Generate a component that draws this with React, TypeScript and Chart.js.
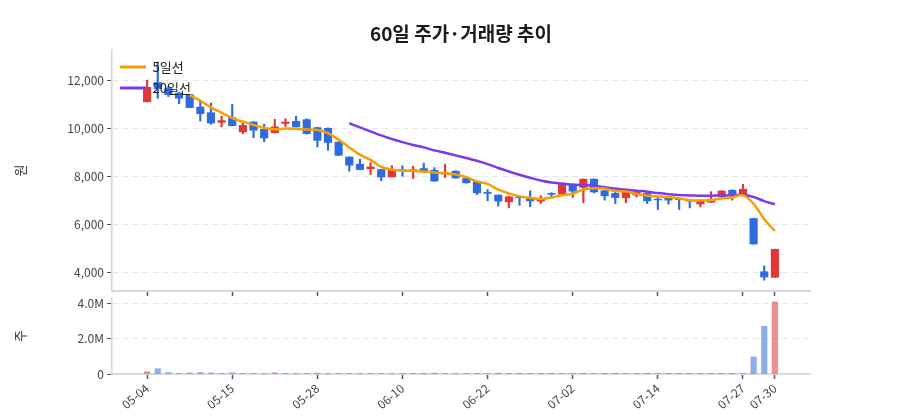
import React, { useEffect, useRef } from "react";
import { Chart, registerables } from "chart.js";

Chart.register(...registerables);

const dates = [
  "05-04", "05-06", "05-07", "05-08", "05-11", "05-12", "05-13", "05-14", "05-15", "05-18",
  "05-19", "05-20", "05-21", "05-22", "05-26", "05-27", "05-28", "05-29", "06-01", "06-02",
  "06-04", "06-05", "06-08", "06-09", "06-10", "06-11", "06-12", "06-15", "06-16", "06-17",
  "06-18", "06-19", "06-22", "06-23", "06-24", "06-25", "06-26", "06-29", "06-30", "07-01",
  "07-02", "07-03", "07-06", "07-07", "07-08", "07-09", "07-10", "07-13", "07-14", "07-15",
  "07-16", "07-20", "07-21", "07-22", "07-23", "07-24", "07-27", "07-28", "07-29", "07-30",
];

const opens = [
  11100, 11900, 11650, 11460, 11400, 10880, 10650, 10250, 10440, 9850,
  10260, 9960, 9820, 10200, 10290, 10360, 10030, 10000, 9430, 8810,
  8510, 8320, 8290, 7980, 8280, 8240, 8330, 8260, 8100, 8220,
  7920, 7780, 7340, 7230, 6950, 7140, 7130, 6980, 7300, 7270,
  7640, 7550, 7890, 7410, 7300, 7120, 7230, 7300, 7060, 7130,
  7060, 7000, 6860, 6930, 7160, 7430, 7270, 6260, 4050, 3820,
];
const highs = [
  12000, 12750, 11750, 11500, 11420, 11120, 11050, 10500, 10990, 10220,
  10280, 10170, 10370, 10400, 10500, 10400, 10050, 10020, 9440, 8820,
  8720, 8580, 8300, 8450, 8450, 8430, 8560, 8370, 8510, 8240,
  7960, 7790, 7460, 7240, 7170, 7150, 7410, 7200, 7330, 7680,
  7660, 7900, 7900, 7420, 7360, 7350, 7380, 7310, 7160, 7140,
  7090, 7050, 7000, 7370, 7410, 7450, 7680, 6270, 4290, 4990,
];
const lows = [
  11100, 11250, 11320, 11020, 10850, 10300, 10170, 10060, 10100, 9780,
  9610, 9440, 9810, 10080, 10050, 9760, 9230, 9090, 8870, 8220,
  8280, 8080, 7820, 7980, 8010, 7920, 8210, 7800, 7960, 7930,
  7720, 7250, 6990, 6770, 6700, 6810, 6750, 6880, 7130, 7260,
  7130, 6910, 7320, 7020, 6880, 6910, 7150, 6880, 6630, 6850,
  6630, 6700, 6740, 6920, 7150, 7020, 7260, 5190, 3700, 3810,
];
const closes = [
  11700, 11650, 11400, 11250, 10860, 10610, 10220, 10320, 10110, 10120,
  9920, 9600, 10060, 10260, 10060, 9780, 9500, 9410, 8880, 8470,
  8290, 8400, 7980, 8290, 8240, 8280, 8220, 7810, 8160, 7940,
  7740, 7320, 7300, 6980, 7160, 7120, 6990, 7090, 7260, 7670,
  7390, 7890, 7360, 7200, 7130, 7340, 7370, 6990, 7030, 7020,
  7040, 6980, 6990, 7050, 7400, 7230, 7470, 5200, 3830, 4980,
];
const volumes = [
  130000, 300000, 80000, 30000, 60000, 80000, 60000, 30000, 70000, 30000,
  30000, 30000, 70000, 20000, 30000, 30000, 50000, 30000, 30000, 30000,
  30000, 30000, 30000, 30000, 20000, 20000, 20000, 50000, 30000, 30000,
  20000, 20000, 20000, 50000, 5000, 5000, 5000, 5000, 5000, 5000,
  5000, 5000, 5000, 5000, 5000, 5000, 5000, 5000, 15000, 5000,
  5000, 5000, 5000, 5000, 5000, 5000, 5000, 970000, 2700000, 4080000,
];
// 5-day moving average, starting at the 5th session
const ma5 = [
  11372, 11154, 10868, 10652, 10424, 10276, 10138, 10014, 9962, 9992,
  9980, 9952, 9932, 9802, 9526, 9208, 8910, 8690, 8404, 8286,
  8240, 8238, 8202, 8168, 8142, 8082, 7974, 7794, 7692, 7456,
  7300, 7176, 7110, 7068, 7124, 7226, 7280, 7460, 7514, 7502,
  7394, 7384, 7280, 7206, 7172, 7150, 7090, 7012, 7012, 7016,
  7092, 7130, 7228, 6870, 6226, 5742,
];
const ma5Start = 4;
// 20-day moving average, starting at the 20th session
const ma20 = [
  10209, 10039, 9876, 9705, 9557, 9426, 9310, 9210, 9084, 8987,
  8878, 8769, 8655, 8517, 8353, 8208, 8075, 7949, 7833, 7752,
  7712, 7667, 7642, 7611, 7556, 7501, 7454, 7411, 7370, 7314,
  7268, 7233, 7216, 7200, 7204, 7216, 7221, 7245, 7151, 6979,
  6845,
];
const ma20Start = 19;

const dateTickIndexes = [0, 8, 16, 24, 32, 40, 48, 56, 59];
const priceTicks = [4000, 6000, 8000, 10000, 12000];
const volumeTicks = [0, 2000000, 4000000];

const UP = "#e23737";
const DOWN = "#2e6be3";
const UP_VOL = "rgba(226,55,55,0.55)";
const DOWN_VOL = "rgba(46,107,227,0.55)";
const MA5_COLOR = "#f59f00";
const MA20_COLOR = "#7c3aed";
const FONT = "'Noto Sans CJK KR', 'Noto Sans', sans-serif";

Chart.defaults.font.family = FONT;

function xAxis(showLabels: boolean, height: number) {
  return {
    type: "linear" as const,
    min: -3.3,
    max: 62.3,
    offset: false,
    afterBuildTicks: (s: any) => {
      s.ticks = dateTickIndexes.map((v) => ({ value: v }));
    },
    afterFit: (s: any) => {
      s.height = height;
      s.paddingLeft = 0;
      s.paddingRight = 0;
    },
    ticks: {
      display: showLabels,
      autoSkip: false,
      maxRotation: 40,
      minRotation: 40,
      padding: 2,
      color: "#444",
      font: { size: 12 },
      callback: (v: any) => dates[v] ?? "",
    },
    grid: {
      display: true,
      offset: false,
      drawOnChartArea: false,
      drawTicks: true,
      tickLength: 5,
      tickColor: "#555",
      tickWidth: 1.5,
    },
    border: { display: true, color: "#d6d9e2", width: 2 },
  };
}

function yAxis(min: number, max: number, ticks: number[], title: string, fmt: (v: number) => string) {
  return {
    type: "linear" as const,
    min,
    max,
    afterBuildTicks: (s: any) => {
      s.ticks = ticks.map((v) => ({ value: v }));
    },
    afterFit: (s: any) => {
      s.width = 112;
      s.paddingTop = 0;
      s.paddingBottom = 0;
    },
    ticks: {
      color: "#444",
      font: { size: 12 },
      padding: 3,
      callback: (v: any) => fmt(Number(v)),
    },
    grid: {
      color: "#e6e6e6",
      lineWidth: 1,
      tickColor: "#555",
      tickLength: 5,
    },
    border: { display: true, color: "#d0d4e1", width: 1.5, dash: [6, 4] },
    title: {
      display: true,
      text: title,
      color: "#333",
      font: { size: 13 },
      padding: { top: 12, bottom: 0 },
    },
  };
}

export default function App() {
  const priceRef = useRef<HTMLCanvasElement>(null);
  const volRef = useRef<HTMLCanvasElement>(null);

  useEffect(() => {
    const idx = closes.map((_, i) => i);
    const isUp = idx.map((i) => closes[i] >= opens[i]);

    const priceChart = new Chart(priceRef.current!, {
      type: "bar",
      data: {
        datasets: [
          {
            type: "line",
            label: "5일선",
            data: ma5.map((v, k) => ({ x: k + ma5Start, y: v })),
            borderColor: MA5_COLOR,
            backgroundColor: MA5_COLOR,
            borderWidth: 2.5,
            pointRadius: 0,
            tension: 0.35,
            order: 0,
          } as any,
          {
            type: "line",
            label: "20일선",
            data: ma20.map((v, k) => ({ x: k + ma20Start, y: v })),
            borderColor: MA20_COLOR,
            backgroundColor: MA20_COLOR,
            borderWidth: 2.5,
            pointRadius: 0,
            tension: 0.35,
            order: 0,
          } as any,
          {
            type: "bar",
            label: "body",
            data: idx.map((i) => ({ x: i, y: [opens[i], closes[i]] })),
            backgroundColor: isUp.map((u) => (u ? UP : DOWN)),
            borderWidth: 0,
            barThickness: 7.5,
            grouped: false,
            order: 1,
          } as any,
          {
            type: "bar",
            label: "wick",
            data: idx.map((i) => ({ x: i, y: [lows[i], highs[i]] })),
            backgroundColor: isUp.map((u) => (u ? UP : DOWN)),
            borderWidth: 0,
            barThickness: 1.5,
            grouped: false,
            order: 2,
          } as any,
        ],
      },
      options: {
        responsive: false,
        animation: false,
        layout: { padding: { left: 0, right: 90, top: 0, bottom: 0 } },
        scales: {
          x: xAxis(false, 5) as any,
          y: yAxis(3250, 13250, priceTicks, "원", (v) => v.toLocaleString("en-US")) as any,
        },
        plugins: {
          title: {
            display: true,
            fullSize: false,
            text: "60일 주가·거래량 추이",
            color: "#1a1a1a",
            font: { size: 19, weight: "bold" },
            padding: { top: 22, bottom: 5.2 },
          },
          legend: {
            display: true,
            position: "chartArea",
            align: "start",
            title: {
              display: true,
              text: "",
              font: { size: 1, lineHeight: 1 },
              padding: { top: 51.5, bottom: 0 },
            },
            labels: {
              boxWidth: 26,
              boxHeight: 3,
              padding: 8,
              color: "#222",
              font: { size: 13 },
              generateLabels: (chart: any) =>
                Chart.defaults.plugins.legend.labels
                  .generateLabels(chart)
                  .filter((it: any) => it.datasetIndex < 2)
                  .map((it: any) => ({ ...it, fillStyle: it.strokeStyle, lineWidth: 0 })),
            },
          },
          tooltip: { enabled: false },
        },
      } as any,
    });

    // draw the in-plot legend above the candles and lines
    const legend: any = (priceChart as any).legend;
    if (legend) {
      legend._layers = () => [{ z: 1, draw: (area: any) => legend.draw(area) }];
      priceChart.update();
    }

    const volChart = new Chart(volRef.current!, {
      type: "bar",
      data: {
        datasets: [
          {
            label: "거래량",
            data: idx.map((i) => ({ x: i, y: volumes[i] })),
            backgroundColor: isUp.map((u) => (u ? UP_VOL : DOWN_VOL)),
            borderWidth: 0,
            barThickness: 5.5,
            grouped: false,
          } as any,
        ],
      },
      options: {
        responsive: false,
        animation: false,
        layout: { padding: { left: 0, right: 90, top: 8, bottom: 0 } },
        scales: {
          x: xAxis(true, 46) as any,
          y: yAxis(0, 4300000, volumeTicks, "주", (v) => (v === 0 ? "0" : (v / 1000000).toFixed(1) + "M")) as any,
        },
        plugins: {
          legend: { display: false },
          title: { display: false },
          tooltip: { enabled: false },
        },
      } as any,
    });

    return () => {
      priceChart.destroy();
      volChart.destroy();
    };
  }, []);

  return (
    <div style={{ position: "fixed", left: 0, top: 0, width: 900, height: 420, background: "#fff" }}>
      <canvas
        ref={priceRef}
        width={900}
        height={296}
        style={{ position: "absolute", left: 0, top: 0, width: 900, height: 296 }}
      />
      <canvas
        ref={volRef}
        width={900}
        height={130}
        style={{ position: "absolute", left: 0, top: 290, width: 900, height: 130 }}
      />
    </div>
  );
}
